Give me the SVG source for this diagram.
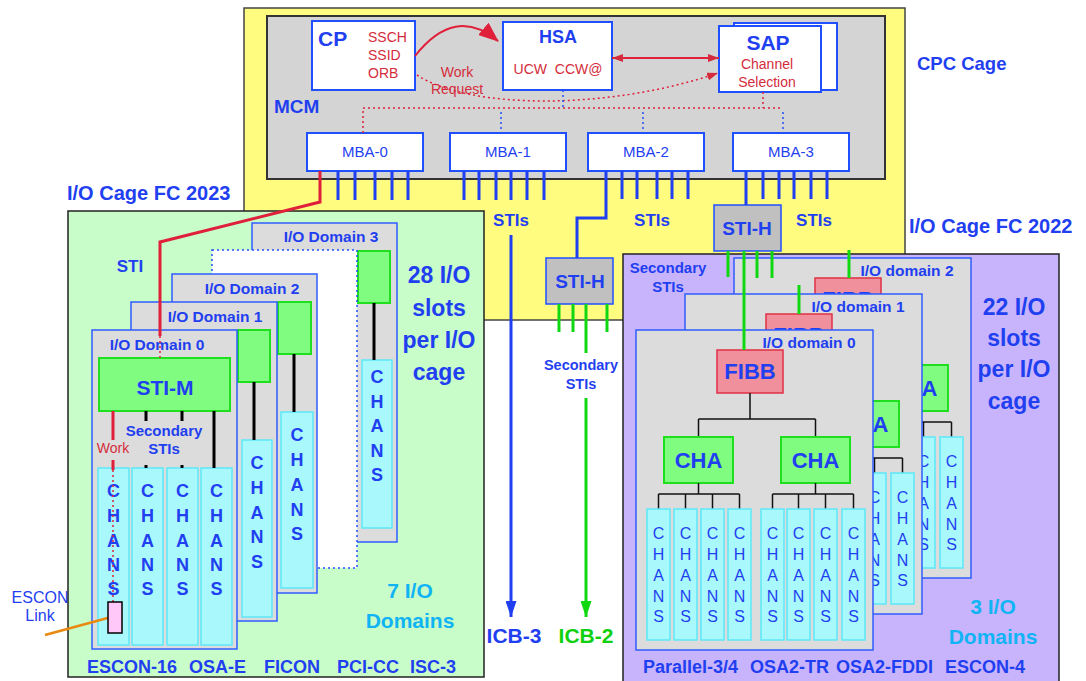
<svg xmlns="http://www.w3.org/2000/svg" width="1086" height="681" viewBox="0 0 1086 681">
<defs>
<style>
text{font-family:"Liberation Sans",Arial,Helvetica,sans-serif}
.b{font-weight:bold;fill:#1f3ff0}
.r{fill:#1f3ff0}
.m{text-anchor:middle}
.red{fill:#d42c3c;font-size:14px}
.lb{font-weight:bold;fill:#10b4f4;text-anchor:middle;font-size:21px}
.wb{fill:#fff;stroke:#1f4fff;stroke-width:2}
.dom{fill:#dcdcdc;stroke:#2f5cff;stroke-width:1.5}
.gb{fill:#80fc80;stroke:#1ee01e;stroke-width:2}
.ch{fill:#a8f8fc;stroke:#5ce8f8;stroke-width:1.5}
.fb{fill:#f0909c;stroke:#e03046;stroke-width:1.5}
.sh{fill:#c0c0c0;stroke:#1f4fff;stroke-width:1.5}
.lc{font-weight:bold;font-size:18px;fill:#1f3ff0;text-anchor:middle}
.rc{font-size:16px;fill:#1f3ff0;text-anchor:middle}
.dl{font-weight:bold;font-size:15.5px;fill:#1f3ff0;text-anchor:middle}
.bl{stroke:#1f3ff0;stroke-width:3;fill:none}
.gl{stroke:#10d810;stroke-width:3;fill:none}
.kl{stroke:#000;stroke-width:3;fill:none}
.tl{stroke:#111;stroke-width:1.5;fill:none}
.rl{stroke:#e0203a;stroke-width:3;fill:none}
.rt{stroke:#e0203a;stroke-width:2;fill:none}
.rd{stroke:#e0203a;stroke-width:1.5;stroke-dasharray:2 3;fill:none}
.bd{stroke:#1f4fff;stroke-width:1.5;stroke-dasharray:2 3;fill:none}
</style>
<clipPath id="fibbTop" clipPathUnits="userSpaceOnUse"><rect x="717" y="340" width="66" height="26"/></clipPath>
<marker id="ahBig" markerUnits="userSpaceOnUse" markerWidth="20" markerHeight="16" viewBox="0 0 20 16" refX="19" refY="8" orient="auto"><path d="M0,0 L20,8 L0,16 z" fill="#e0203a"/></marker>
<marker id="ahR" markerUnits="userSpaceOnUse" markerWidth="11" markerHeight="8" viewBox="0 0 11 8" refX="11" refY="4" orient="auto-start-reverse"><path d="M0,0 L11,4 L0,8 z" fill="#d42c3c"/></marker>
<marker id="ahB" markerUnits="userSpaceOnUse" markerWidth="16" markerHeight="11" viewBox="0 0 16 11" refX="16" refY="5.5" orient="auto"><path d="M0,0 L16,5.5 L0,11 z" fill="#1f3ff0"/></marker>
<marker id="ahG" markerUnits="userSpaceOnUse" markerWidth="16" markerHeight="11" viewBox="0 0 16 11" refX="16" refY="5.5" orient="auto"><path d="M0,0 L16,5.5 L0,11 z" fill="#10d810"/></marker>
</defs>

<g id="cpc-cage">
<rect x="244" y="8" width="661" height="312" fill="#fffc80" stroke="#444" stroke-width="1.5"/>
<text class="b" x="917" y="70" font-size="18.5">CPC Cage</text>
</g>
<g id="mcm">
<rect x="267" y="16" width="618" height="163" fill="#d4d4d4" stroke="#333" stroke-width="2"/>
<text class="b" x="274" y="113" font-size="19">MCM</text>
</g>
<g id="cp">
<rect class="wb" x="312" y="21" width="103" height="69"/>
<text class="b" x="318" y="46" font-size="21">CP</text>
<text class="red" x="368" y="42">SSCH</text>
<text class="red" x="368" y="60">SSID</text>
<text class="red" x="368" y="78">ORB</text>
</g>
<g id="hsa">
<rect class="wb" x="503" y="22" width="109" height="68"/>
<text class="b m" x="558" y="43" font-size="18">HSA</text>
<text class="red m" x="558" y="74" xml:space="preserve">UCW  CCW@</text>
</g>
<g id="sap">
<rect class="wb" x="734" y="23" width="103" height="67"/>
<rect class="wb" x="719" y="26" width="102" height="66"/>
<text class="b m" x="768" y="50" font-size="21">SAP</text>
<text class="red m" x="767" y="69">Channel</text>
<text class="red m" x="767" y="87">Selection</text>
</g>
<g id="work-request-label">
<text class="red m" x="457" y="77">Work</text>
<text class="red m" x="457" y="94">Request</text>
</g>
<g id="mba-0"><rect class="wb" x="307" y="133" width="116" height="38"/><text class="r m" x="365" y="157" font-size="15">MBA-0</text></g>
<g id="mba-1"><rect class="wb" x="450" y="133" width="116" height="38"/><text class="r m" x="508" y="157" font-size="15">MBA-1</text></g>
<g id="mba-2"><rect class="wb" x="588" y="133" width="116" height="38"/><text class="r m" x="646" y="157" font-size="15">MBA-2</text></g>
<g id="mba-3"><rect class="wb" x="733" y="133" width="116" height="38"/><text class="r m" x="791" y="157" font-size="15">MBA-3</text></g>
<g id="sti-labels">
<text class="b m" x="511" y="226" font-size="17">STIs</text>
<text class="b m" x="652" y="226" font-size="17">STIs</text>
<text class="b m" x="814" y="226" font-size="17">STIs</text>
</g>
<g id="sti-h-right"><rect class="sh" x="714" y="205" width="67" height="46"/><text class="b m" x="747" y="235" font-size="19">STI-H</text></g>
<g id="sti-h-left"><rect class="sh" x="546" y="258" width="67" height="46"/><text class="b m" x="580" y="288" font-size="19">STI-H</text></g>
<g id="secondary-stis-mid">
<text class="b m" x="581" y="370" font-size="14.5">Secondary</text>
<text class="b m" x="581" y="389" font-size="14.5">STIs</text>
</g>
<g id="icb-labels">
<text class="b m" x="514" y="643" font-size="21">ICB-3</text>
<text class="m" x="586" y="643" font-size="21" font-weight="bold" fill="#10d010">ICB-2</text>
</g>

<g id="io-cage-2023">
<text class="b" x="67" y="200" font-size="20">I/O Cage FC 2023</text>
<rect x="68" y="211" width="416" height="466" fill="#c8fcc8" stroke="#222" stroke-width="1.5"/>
<text class="b m" x="130" y="272" font-size="17">STI</text>
<text class="b m" x="439" y="283" font-size="23">28 I/O</text>
<text class="b m" x="439" y="316" font-size="23">slots</text>
<text class="b m" x="439" y="348" font-size="23">per I/O</text>
<text class="b m" x="439" y="380" font-size="23">cage</text>
<text class="lb" x="410" y="598">7 I/O</text>
<text class="lb" x="410" y="628">Domains</text>
<text class="b" x="87" y="673" font-size="18">ESCON-16</text>
<text class="b" x="189" y="673" font-size="18">OSA-E</text>
<text class="b" x="264" y="673" font-size="18">FICON</text>
<text class="b" x="337" y="673" font-size="18">PCI-CC</text>
<text class="b" x="410" y="673" font-size="18">ISC-3</text>
</g>
<g id="io-domain-3-left">
<rect class="dom" x="252" y="223" width="145" height="319"/>
<text class="dl" x="331" y="242">I/O Domain 3</text>
<rect class="gb" x="358" y="251" width="32" height="52"/>
<rect class="ch" x="362" y="360" width="30" height="168"/>
<text class="lc"><tspan x="377" y="383">C</tspan><tspan x="377" y="408">H</tspan><tspan x="377" y="432">A</tspan><tspan x="377" y="457">N</tspan><tspan x="377" y="481">S</tspan></text>
</g>
<g id="spare-slot">
<rect x="212" y="250" width="145" height="318" fill="#fff" stroke="#1f4fff" stroke-width="1.5" stroke-dasharray="2 3"/>
</g>
<g id="io-domain-2-left">
<rect class="dom" x="172" y="274" width="145" height="319"/>
<text class="dl" x="252" y="294">I/O Domain 2</text>
<rect class="gb" x="278" y="302" width="33" height="52"/>
<rect class="ch" x="281" y="412" width="32" height="176"/>
<text class="lc"><tspan x="297" y="441">C</tspan><tspan x="297" y="466">H</tspan><tspan x="297" y="491">A</tspan><tspan x="297" y="516">N</tspan><tspan x="297" y="540">S</tspan></text>
</g>
<g id="io-domain-1-left">
<rect class="dom" x="131" y="302" width="146" height="319"/>
<text class="dl" x="215" y="322">I/O Domain 1</text>
<rect class="gb" x="238" y="330" width="32" height="52"/>
<rect class="ch" x="242" y="440" width="30" height="177"/>
<text class="lc"><tspan x="257" y="469">C</tspan><tspan x="257" y="494">H</tspan><tspan x="257" y="519">A</tspan><tspan x="257" y="543">N</tspan><tspan x="257" y="568">S</tspan></text>
</g>
<g id="io-domain-0-left">
<rect class="dom" x="92" y="330" width="145" height="319"/>
<text class="dl" x="157" y="350">I/O Domain 0</text>
<rect class="gb" x="99" y="358" width="131" height="53"/>
<text class="b m" x="165" y="395" font-size="21">STI-M</text>
<text class="b m" x="164" y="436" font-size="15">Secondary</text>
<text class="b m" x="164" y="454" font-size="15">STIs</text>
<text class="red m" x="113" y="453">Work</text>
<rect class="ch" x="98" y="468" width="31" height="177"/>
<rect class="ch" x="132" y="468" width="31" height="177"/>
<rect class="ch" x="167" y="468" width="31" height="177"/>
<rect class="ch" x="201" y="468" width="31" height="177"/>
<text class="lc"><tspan x="113.5" y="497">C</tspan><tspan x="113.5" y="522">H</tspan><tspan x="113.5" y="547">A</tspan><tspan x="113.5" y="571">N</tspan><tspan x="113.5" y="595">S</tspan></text>
<text class="lc"><tspan x="147.5" y="497">C</tspan><tspan x="147.5" y="522">H</tspan><tspan x="147.5" y="547">A</tspan><tspan x="147.5" y="571">N</tspan><tspan x="147.5" y="595">S</tspan></text>
<text class="lc"><tspan x="182.5" y="497">C</tspan><tspan x="182.5" y="522">H</tspan><tspan x="182.5" y="547">A</tspan><tspan x="182.5" y="571">N</tspan><tspan x="182.5" y="595">S</tspan></text>
<text class="lc"><tspan x="216.5" y="497">C</tspan><tspan x="216.5" y="522">H</tspan><tspan x="216.5" y="547">A</tspan><tspan x="216.5" y="571">N</tspan><tspan x="216.5" y="595">S</tspan></text>
</g>
<g id="escon-link">
<text class="r m" x="40" y="603" font-size="16">ESCON</text>
<text class="r m" x="40" y="621" font-size="16">Link</text>
</g>

<g id="io-cage-2022">
<rect x="623" y="254" width="436" height="430" fill="#c8b4fc" stroke="#222" stroke-width="1.5"/>
<text class="b" x="909" y="233" font-size="20">I/O Cage FC 2022</text>
<text class="b m" x="668" y="273" font-size="15">Secondary</text>
<text class="b m" x="668" y="292" font-size="15">STIs</text>
<text class="b m" x="1014" y="315" font-size="23">22 I/O</text>
<text class="b m" x="1014" y="346" font-size="23">slots</text>
<text class="b m" x="1014" y="377" font-size="23">per I/O</text>
<text class="b m" x="1014" y="409" font-size="23">cage</text>
<text class="lb" x="993" y="614">3 I/O</text>
<text class="lb" x="993" y="644">Domains</text>
<text class="b" x="643" y="673" font-size="18">Parallel-3/4</text>
<text class="b" x="750" y="673" font-size="18">OSA2-TR</text>
<text class="b" x="836" y="673" font-size="18">OSA2-FDDI</text>
<text class="b" x="945" y="673" font-size="18">ESCON-4</text>
</g>
<g id="io-domain-2-right" transform="translate(98,-72)">
<rect class="dom" x="636" y="330" width="237" height="320"/>
<text class="dl" x="809" y="348">I/O domain 2</text>
<rect class="fb" x="717" y="350" width="66" height="43"/>
<g clip-path="url(#fibbTop)"><text class="b m" x="750" y="379" font-size="22">FIBB</text></g>
<rect class="gb" x="781" y="437" width="69" height="46"/>
<text class="b m" x="815.5" y="468" font-size="22">CHA</text>
<path class="tl" d="M815.5,483 V494 M772.5,494 H853.5 M772.5,494 V509 M798.5,494 V509 M825.5,494 V509 M853.5,494 V509"/>
<rect class="ch" x="814" y="509" width="23" height="131"/>
<rect class="ch" x="842" y="509" width="23" height="131"/>
<text class="rc"><tspan x="825.5" y="539">C</tspan><tspan x="825.5" y="560">H</tspan><tspan x="825.5" y="581">A</tspan><tspan x="825.5" y="602">N</tspan><tspan x="825.5" y="622">S</tspan></text>
<text class="rc"><tspan x="853.5" y="539">C</tspan><tspan x="853.5" y="560">H</tspan><tspan x="853.5" y="581">A</tspan><tspan x="853.5" y="602">N</tspan><tspan x="853.5" y="622">S</tspan></text>
</g>
<g id="io-domain-1-right" transform="translate(49,-36)">
<rect class="dom" x="636" y="330" width="237" height="320"/>
<text class="dl" x="809" y="348">I/O domain 1</text>
<rect class="fb" x="717" y="350" width="66" height="43"/>
<g clip-path="url(#fibbTop)"><text class="b m" x="750" y="379" font-size="22">FIBB</text></g>
<rect class="gb" x="781" y="437" width="69" height="46"/>
<text class="b m" x="815.5" y="468" font-size="22">CHA</text>
<path class="tl" d="M815.5,483 V494 M772.5,494 H853.5 M772.5,494 V509 M798.5,494 V509 M825.5,494 V509 M853.5,494 V509"/>
<rect class="ch" x="814" y="509" width="23" height="131"/>
<rect class="ch" x="842" y="509" width="23" height="131"/>
<text class="rc"><tspan x="825.5" y="539">C</tspan><tspan x="825.5" y="560">H</tspan><tspan x="825.5" y="581">A</tspan><tspan x="825.5" y="602">N</tspan><tspan x="825.5" y="622">S</tspan></text>
<text class="rc"><tspan x="853.5" y="539">C</tspan><tspan x="853.5" y="560">H</tspan><tspan x="853.5" y="581">A</tspan><tspan x="853.5" y="602">N</tspan><tspan x="853.5" y="622">S</tspan></text>
</g>
<g id="io-domain-0-right">
<rect class="dom" x="636" y="330" width="237" height="320"/>
<text class="dl" x="809" y="348">I/O domain 0</text>
<rect class="fb" x="717" y="350" width="66" height="43"/>
<text class="b m" x="750" y="379" font-size="22">FIBB</text>
<path class="tl" d="M750,393 V419 M698.5,419 H815.5 M698.5,419 V437 M815.5,419 V437"/>
<rect class="gb" x="664" y="437" width="69" height="46"/>
<text class="b m" x="698.5" y="468" font-size="22">CHA</text>
<rect class="gb" x="781" y="437" width="69" height="46"/>
<text class="b m" x="815.5" y="468" font-size="22">CHA</text>
<path class="tl" d="M698.5,483 V494 M658.5,494 H739.5 M658.5,494 V509 M685.5,494 V509 M712.5,494 V509 M739.5,494 V509 M815.5,483 V494 M772.5,494 H853.5 M772.5,494 V509 M798.5,494 V509 M825.5,494 V509 M853.5,494 V509"/>
<rect class="ch" x="647" y="509" width="23" height="131"/>
<rect class="ch" x="674" y="509" width="23" height="131"/>
<rect class="ch" x="701" y="509" width="23" height="131"/>
<rect class="ch" x="728" y="509" width="23" height="131"/>
<rect class="ch" x="761" y="509" width="23" height="131"/>
<rect class="ch" x="787" y="509" width="23" height="131"/>
<rect class="ch" x="814" y="509" width="23" height="131"/>
<rect class="ch" x="842" y="509" width="23" height="131"/>
<text class="rc"><tspan x="658.5" y="539">C</tspan><tspan x="658.5" y="560">H</tspan><tspan x="658.5" y="581">A</tspan><tspan x="658.5" y="602">N</tspan><tspan x="658.5" y="622">S</tspan></text>
<text class="rc"><tspan x="685.5" y="539">C</tspan><tspan x="685.5" y="560">H</tspan><tspan x="685.5" y="581">A</tspan><tspan x="685.5" y="602">N</tspan><tspan x="685.5" y="622">S</tspan></text>
<text class="rc"><tspan x="712.5" y="539">C</tspan><tspan x="712.5" y="560">H</tspan><tspan x="712.5" y="581">A</tspan><tspan x="712.5" y="602">N</tspan><tspan x="712.5" y="622">S</tspan></text>
<text class="rc"><tspan x="739.5" y="539">C</tspan><tspan x="739.5" y="560">H</tspan><tspan x="739.5" y="581">A</tspan><tspan x="739.5" y="602">N</tspan><tspan x="739.5" y="622">S</tspan></text>
<text class="rc"><tspan x="772.5" y="539">C</tspan><tspan x="772.5" y="560">H</tspan><tspan x="772.5" y="581">A</tspan><tspan x="772.5" y="602">N</tspan><tspan x="772.5" y="622">S</tspan></text>
<text class="rc"><tspan x="798.5" y="539">C</tspan><tspan x="798.5" y="560">H</tspan><tspan x="798.5" y="581">A</tspan><tspan x="798.5" y="602">N</tspan><tspan x="798.5" y="622">S</tspan></text>
<text class="rc"><tspan x="825.5" y="539">C</tspan><tspan x="825.5" y="560">H</tspan><tspan x="825.5" y="581">A</tspan><tspan x="825.5" y="602">N</tspan><tspan x="825.5" y="622">S</tspan></text>
<text class="rc"><tspan x="853.5" y="539">C</tspan><tspan x="853.5" y="560">H</tspan><tspan x="853.5" y="581">A</tspan><tspan x="853.5" y="602">N</tspan><tspan x="853.5" y="622">S</tspan></text>
</g>

<g id="connectors">
<path class="rt" d="M415,56 Q455,5 498,41" marker-end="url(#ahBig)"/>
<path class="rt" d="M612,58 H719" marker-start="url(#ahR)" marker-end="url(#ahR)"/>
<path class="rd" d="M417,75 C470,110 610,110 718,73" marker-end="url(#ahR)"/>
<path class="rd" d="M363,133 V108 H782 M763,92 V108"/>
<path class="bd" d="M563,90 V108 M501,112 V133 M643,112 V133 M783,112 V133"/>
<path class="bl" d="M338,171 V200 M355,171 V200 M375,171 V200 M392,171 V200 M408,171 V200"/>
<path class="bl" d="M464,171 V200 M479,171 V200 M496,171 V200 M511,171 V200 M527,171 V200 M544,171 V200"/>
<path class="bl" d="M511,235 V617" marker-end="url(#ahB)"/>
<path class="bl" d="M622,171 V199 M637,171 V199 M657,171 V199 M672,171 V199 M688,171 V199 M606,171 V218 H577 V258"/>
<path class="bl" d="M763,171 V199 M779,171 V199 M794,171 V199 M811,171 V199 M827,171 V199 M746,171 V205"/>
<path class="gl" d="M559,304 V332 M573,304 V332 M607,304 V332 M586,304 V353"/>
<path class="gl" d="M586,398 V617" marker-end="url(#ahG)"/>
<path class="gl" d="M728,251 V277 M757,251 V278 M772,251 V278 M744,251 V350 M849,250 V278 M799,285 V314"/>
<path class="rl" d="M320,171 V202 L160,242 V336"/>
<path class="rd" d="M160,336 V358"/>
<path class="kl" d="M374,303 V360 M294,354 V412 M254,382 V440 M214,411 V468 M146,411 V421 M146,465 V468 M182,411 V421 M182,465 V468"/>
<path class="rl" d="M113,411 V440 M113,460 V470"/>
<path class="rd" d="M113,470 V602"/>
<path d="M45,635 L115,616" stroke="#e88a10" stroke-width="2.5" fill="none"/>
</g>
<g id="escon-port">
<rect x="108" y="602" width="14" height="31" fill="#ffc8f8" stroke="#000" stroke-width="1.5"/>
</g>
</svg>
